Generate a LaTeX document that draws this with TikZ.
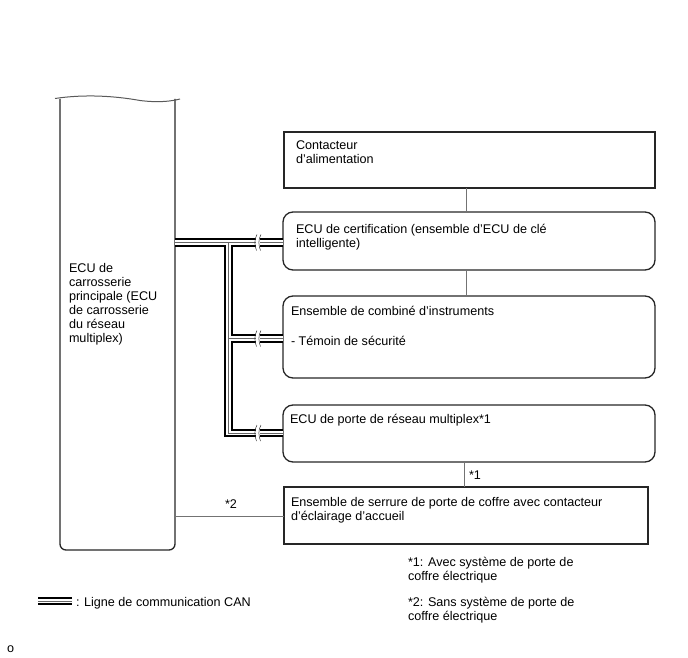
\documentclass[tikz,border=0pt]{standalone}
\usepackage{fontspec}
\setmainfont{Liberation Sans}
\begin{document}
\begin{tikzpicture}[x=1pt,y=-1pt,
  every node/.style={inner sep=0pt, outer sep=0pt},
  txt/.style={anchor=base west, align=left, font=\fontsize{12.6}{14}\selectfont},
  sqbox/.style={draw=black!85, line width=1.3pt, anchor=north west},
  rbox/.style={draw=black!85, line width=1.3pt, rounded corners=10pt, anchor=north west},
  thin/.style={draw=black!55, line width=0.9pt},
  canblack/.style={line width=8.6pt, black},
  canwhite/.style={line width=4.4pt, white},
  cangray/.style={line width=0.7pt, black!60},
  brk/.style={line width=0.5pt, black!80}]
\useasboundingbox (0,0) rectangle (688,658);

% ECU main (outline drawn below)
\node[anchor=north west, minimum width=115pt, minimum height=451pt] (ecu) at (60,99) {};
\draw[line width=1.3pt, black!85, rounded corners=6pt]
  (ecu.north west) -- (ecu.south west) -- (ecu.south east) -- (ecu.north east);
\draw[line width=1pt, black!65]
  (55,98.5) .. controls (85,94) and (115,96) .. (140,100.5)
            .. controls (160,103) and (172,101) .. (180,99);
% base anchor of a multi-line node = baseline of its last line
\node[txt] (ecut) at (69,342) {ECU de\\carrosserie\\principale (ECU\\de carrosserie\\du réseau\\multiplex)};

% boxes
\node[sqbox, minimum width=371pt, minimum height=56pt] (b1) at (284,132) {};
\node[rbox, minimum width=372pt, minimum height=58pt] (b2) at (283,212) {};
\node[rbox, minimum width=372pt, minimum height=82pt] (b3) at (283,296) {};
\node[rbox, minimum width=372pt, minimum height=57pt] (b4) at (283,405) {};
\node[sqbox, minimum width=364pt, minimum height=57pt] (b5) at (284,487) {};

\node[txt] (t1) at (296,164) {Contacteur\\d'alimentation};
\node[txt] (t2) at (296,247) {ECU de certification (ensemble d'ECU de clé\\intelligente)};
\node[txt] (t3) at (291,315) {Ensemble de combiné d'instruments};
\node[txt] (t3b) at (291,345) {- Témoin de sécurité};
\node[txt] (t4) at (290,423) {ECU de porte de réseau multiplex*1};
\node[txt] (t5) at (291,520) {Ensemble de serrure de porte de coffre avec contacteur\\d'éclairage d'accueil};

% thin connectors
\draw[thin] (b1.south -| 466,0) -- (b2.north -| 466,0);
\draw[thin] (b2.south -| 466,0) -- (b3.north -| 466,0);
\draw[thin] (b4.south -| 464,0) -- (b5.north -| 464,0);
\node[txt] (s1) at (469,479) {*1};
\draw[thin] (ecu.east |- 0,516) -- (b5.west |- 0,516);
\node[txt] (s2) at (225,508) {*2};

% CAN bus
\coordinate (ja) at (228.5,242.5);
\coordinate (jb) at (228.5,338.5);
\coordinate (jc) at (228.5,433);
\newcommand\canpaths[1]{%
  \draw[#1] (ecu.east |- ja) -- (b2.west |- ja);
  \draw[#1, line join=miter] (ja) -- (jc) -- (b4.west |- jc);
  \draw[#1] (jb) -- (b3.west |- jb);
}
\canpaths{canblack}
\canpaths{canwhite}
\canpaths{cangray}
% breaks
\foreach \yy in {242.5,338.5,433}{
  \fill[white] (256.3,\yy-5) rectangle (259.5,\yy+5);
  \draw[brk] (257,\yy-8) .. controls (254,\yy-3) and (254.5,\yy+3) .. (256.5,\yy+8);
  \draw[brk] (261,\yy-8) .. controls (258,\yy-3) and (258.5,\yy+3) .. (260.5,\yy+8);
}

% legend
\coordinate (la) at (38,601);
\coordinate (lb) at (72,601);
\draw[canblack] (la) -- (lb);
\draw[canwhite] (la) -- (lb);
\draw[cangray] (la) -- (lb);
\node[txt] (lt) at (76,606.5) {: Ligne de communication CAN};

% footnotes
\node[txt] (f1) at (408,580.5) {*1: Avec système de porte de\\coffre électrique};
\node[txt] (f2) at (408,620.5) {*2: Sans système de porte de\\coffre électrique};
\node[txt] (o) at (7,652.5) {o};
\end{tikzpicture}
\end{document}
